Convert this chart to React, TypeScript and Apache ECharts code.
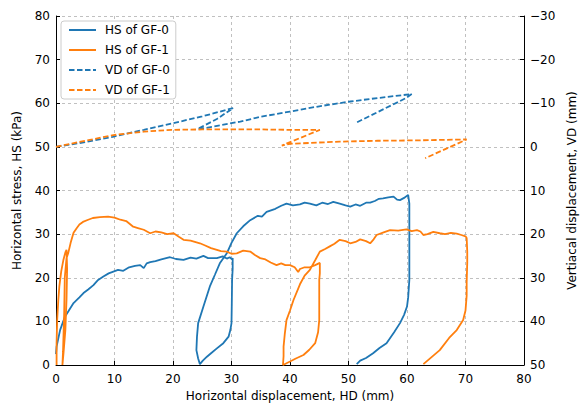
import React, { useEffect, useRef } from "react";
import * as echarts from "echarts";

const xTicks = [0, 80, 10];
const hsTicks = [0, 80, 10];
const vdTicks = [-30, 50, 10];

const hsGF0: number[][] = [
  [0, 2.5], [0.1, 4.2], [0.7, 8], [1.5, 11], [2.2, 12.5], [3, 14.2], [4, 15.5], [4.7, 16.5], [5.5, 17.3],
  [6.4, 18.3], [7.2, 19.5], [8.1, 20.3], [9, 21], [9.8, 21.4], [10.6, 21.8], [11.5, 21.6], [12.5, 22.4],
  [13.5, 22.7], [14.4, 22.9], [15, 22.2], [15.5, 23.3], [16.1, 23.6], [17, 23.8], [18, 24.2], [19.5, 24.7],
  [20.5, 24.3], [21.8, 24.1], [23, 24.6], [24, 24.4], [25.2, 25.0], [26, 24.5], [27.5, 24.5], [28.5, 24.9],
  [29.2, 24.4], [29.7, 24.7], [30.1, 24.2], [30.2, 24.5], [30.2, 22], [30.1, 19.5], [30.05, 14], [30.0, 9.6],
  [29.8, 8], [29.5, 6.5], [28.6, 5], [27.5, 3.8], [26.6, 2.8], [25.8, 1.9], [25.1, 1], [24.6, 0.2],
  [24.3, 1.5], [24.0, 3.4], [24.1, 6.5], [24.3, 9.6], [25.2, 13.4], [26.3, 18], [27.2, 20.8], [28, 23.3],
  [29.2, 25.6], [30, 28], [30.9, 30.2], [32, 31.8], [33.2, 33.2], [34.5, 34.2], [35.2, 34.0], [36, 35.1],
  [37.5, 35.8], [38.5, 36.5], [39.4, 37.0], [40.5, 36.6], [41.7, 36.8], [42.5, 37.2], [43.4, 37.0],
  [44.5, 36.6], [45.5, 37.2], [46.5, 36.9], [47.4, 37.4], [48.5, 37.0], [49.5, 36.6], [50.3, 36.3],
  [51.2, 36.8], [52, 36.5], [53, 37.2], [53.7, 37.2], [54.5, 37.6], [55.2, 38.1], [55.9, 38.2], [56.8, 38.4],
  [57.7, 38.6], [58.3, 37.9], [58.8, 37.8], [59.5, 38.3], [60.2, 39.0], [60.4, 37], [60.4, 30], [60.4, 19.5],
  [60.2, 15.5], [60.0, 13.4], [59.5, 11.5], [58.8, 9.6], [57.8, 7.5], [56.5, 5.0], [55.3, 3.9], [54.2, 2.7],
  [53, 1.6], [52, 1.0], [51.4, 0.2],
];

const hsGF1: number[][] = [
  [0.1, 0], [0.1, 5], [0.2, 10.3], [0.4, 15], [0.57, 18], [0.9, 21.5], [1.25, 24], [1.6, 25.8], [1.8, 26.4],
  [1.9, 22], [1.8, 15], [1.6, 8], [1.3, 3], [1.1, 0], [1.2, 3], [1.4, 12], [1.5, 20], [1.8, 24.5], [2.1, 25.7],
  [2.5, 28], [3.0, 30.3], [3.5, 31.3], [4, 32.2], [4.6, 32.8], [5.5, 33.3], [6.3, 33.7], [7.5, 33.9],
  [8.9, 34.0], [10, 33.8], [11, 33.3], [12, 33.0], [13.2, 31.7], [14, 31.4], [15, 31.0], [16.1, 30.2],
  [17, 30.6], [18, 30.4], [19, 30.0], [20.1, 30.2], [21, 29.4], [21.8, 28.7], [23, 28.5], [24.6, 27.9],
  [25.5, 27.4], [26.5, 26.8], [27.5, 26.4], [28.2, 26.1], [29.2, 26.0], [30, 25.5], [30.9, 25.6], [32, 26.2],
  [33.2, 26.0], [34, 25.2], [34.9, 24.5], [35.8, 24.2], [36.7, 23.5], [37.7, 22.9], [38.5, 23.3], [39.2, 22.9],
  [40, 22.9], [40.8, 22.4], [41.4, 21.3], [41.7, 22.0], [42.5, 22.4], [43.4, 22.4], [44.3, 22.9], [45.1, 23.4],
  [45.1, 21], [45.0, 19.5], [45.0, 14], [45.0, 10.3], [44.8, 7.5], [44.3, 5.0], [43.3, 3.5], [42.3, 2.3],
  [41, 1.5], [40, 0.8], [38.8, 0], [38.9, 2], [38.9, 4.2], [39.1, 7], [39.4, 10.3], [40, 12.5], [40.6, 14.9],
  [41.7, 18.5], [42.5, 20.5], [43.4, 21.8], [44.3, 24], [45.1, 26.0], [46, 26.6], [46.8, 27.2], [47.6, 27.8],
  [48.5, 28.7], [49.5, 28.4], [50.3, 27.9], [51.2, 28.2], [52, 28.8], [53, 28.4], [53.7, 27.9], [54.3, 28.8],
  [54.8, 29.8], [56, 30.4], [57.1, 30.9], [58.5, 30.8], [59.9, 31.1], [60.8, 30.7], [61.7, 30.9], [62.3, 30.6],
  [62.8, 29.8], [63.5, 30.0], [64.5, 30.5], [65.6, 30.2], [66.5, 30.0], [67.5, 30.3], [68.5, 30.1],
  [69.3, 29.8], [70.0, 29.5], [70.2, 29.1], [70.3, 26], [70.3, 23.5], [70.2, 19], [70.2, 15.9], [70.0, 12.5],
  [69.6, 10.3], [68.5, 8.0], [67.2, 6.2], [65.6, 3.4], [64.2, 1.8], [62.8, 0.2],
];

const vdGF0: number[][] = [
  [0, 0], [5, -1.1], [9.7, -2.3], [15, -3.9], [21.2, -5.8], [25, -7.0], [30.3, -8.9], [27.5, -6.4],
  [24.2, -4.1], [25.5, -4.3], [31.5, -5.8], [35, -6.9], [40, -8.1], [45, -9.3], [50.3, -10.4], [55, -11.2],
  [60.8, -12.1], [59.7, -11.1], [51.4, -5.6],
];

const vdGF1: number[][] = [
  [0, 0], [5, -1.4], [9.8, -2.7], [15, -3.5], [19.8, -3.9], [25, -4.0], [30.3, -4.0], [35, -4.0], [40, -3.9],
  [45.1, -3.9], [38.6, -0.3], [40, -0.7], [45, -1.0], [48.5, -1.2], [55, -1.4], [62, -1.5], [70.2, -1.7],
  [63.1, 2.6],
];

const BLUE = "#1f77b4";
const ORANGE = "#ff7f0e";
const FONT = "DejaVu Sans";

const fmt = (v: number) => String(v).replace("-", "\u2212");

export default function App() {
  const ref = useRef<HTMLDivElement>(null);
  useEffect(() => {
    if (!ref.current) return;
    const chart = echarts.init(ref.current, undefined, { renderer: "svg" });
    const grid = { show: true, lineStyle: { color: "#b0b0b0", type: [3, 3] as any, width: 0.8 } };
    const axisLine = { show: true, lineStyle: { color: "#000", width: 1 } };
    const tick = { show: true, inside: true, length: 4, lineStyle: { color: "#000" } };
    const label = { color: "#000", fontSize: 12, fontFamily: FONT, formatter: fmt };
    const nameStyle = { color: "#000", fontSize: 12, fontFamily: FONT };
    const line = (name: string, data: number[][], color: string, yi: number, dashed: boolean) => ({
      name,
      type: "line",
      data,
      yAxisIndex: yi,
      showSymbol: false,
      symbol: "none",
      smooth: false,
      lineStyle: { color, width: 1.8, type: dashed ? [5.5, 2.5] : "solid" },
      itemStyle: { color },
      z: dashed ? 3 : 2,
    });
    chart.setOption({
      animation: false,
      backgroundColor: "#fff",
      grid: { left: 56, right: 64, top: 16, bottom: 38, containLabel: false, outerBoundsMode: "none" },
      legend: {
        left: 61,
        top: 21,
        orient: "vertical",
        backgroundColor: "#fff",
        borderColor: "#ccc",
        borderWidth: 1,
        borderRadius: 3,
        padding: [3, 6, 3, 7],
        itemWidth: 27,
        itemHeight: 14,
        itemGap: 8,
        itemStyle: { opacity: 0 },
        textStyle: { color: "#000", fontSize: 12, fontFamily: FONT, padding: [0, 0, 0, 4] },
        data: ["HS of GF-0", "HS of GF-1", "VD of GF-0", "VD of GF-1"],
      },
      xAxis: {
        type: "value",
        min: xTicks[0],
        max: xTicks[1],
        interval: xTicks[2],
        name: "Horizontal displacement, HD (mm)",
        nameLocation: "middle",
        nameGap: 20,
        nameTextStyle: nameStyle,
        axisLine,
        axisTick: tick,
        axisLabel: { ...label, margin: 8 },
        splitLine: grid,
      },
      yAxis: [
        {
          type: "value",
          min: hsTicks[0],
          max: hsTicks[1],
          interval: hsTicks[2],
          name: "Horizontal stress, HS (kPa)",
          nameLocation: "middle",
          nameGap: 33,
          nameTextStyle: nameStyle,
          axisLine,
          axisTick: tick,
          axisLabel: { ...label, margin: 6 },
          splitLine: grid,
        },
        {
          type: "value",
          position: "right",
          inverse: true,
          min: vdTicks[0],
          max: vdTicks[1],
          interval: vdTicks[2],
          name: "Vertiacal displacement, VD (mm)",
          nameLocation: "middle",
          nameGap: 37,
          nameRotate: 90,
          nameTextStyle: nameStyle,
          axisLine,
          axisTick: tick,
          axisLabel: { ...label, margin: 6 },
          splitLine: { show: false },
        },
      ],
      series: [
        line("HS of GF-0", hsGF0, BLUE, 0, false),
        line("HS of GF-1", hsGF1, ORANGE, 0, false),
        line("VD of GF-0", vdGF0, BLUE, 1, true),
        line("VD of GF-1", vdGF1, ORANGE, 1, true),
      ],
    });
    return () => chart.dispose();
  }, []);
  return <div ref={ref} style={{ width: 588, height: 403, position: "absolute", left: 0, top: 0 }} />;
}
